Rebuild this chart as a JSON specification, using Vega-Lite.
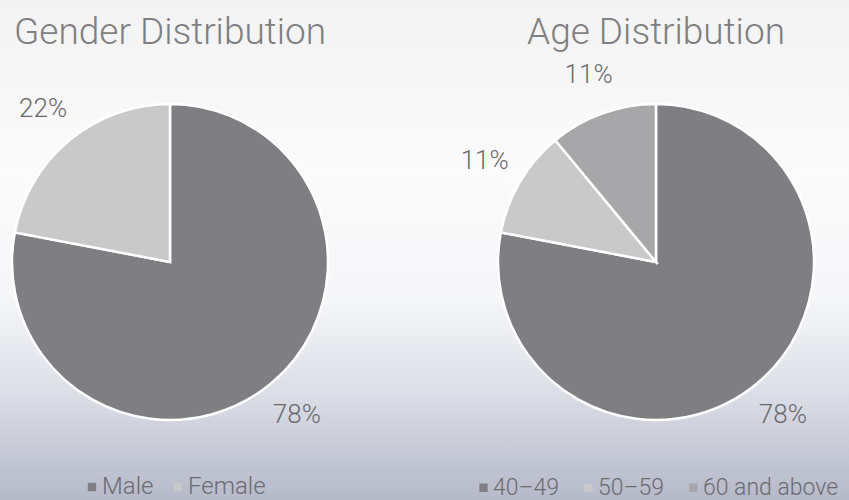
{
  "$schema": "https://vega.github.io/schema/vega-lite/v6.json",
  "width": 849,
  "height": 500,
  "padding": 0,
  "autosize": {"type": "none"},
  "background": "#ffffff",
  "config": {
    "view": {"stroke": null},
    "font": "Roboto"
  },
  "datasets": {
    "gender": [
      {"chart": "Gender Distribution", "group": "Male", "share": 0.78},
      {"chart": "Gender Distribution", "group": "Female", "share": 0.22}
    ],
    "age": [
      {"chart": "Age Distribution", "group": "40–49", "share": 0.78},
      {"chart": "Age Distribution", "group": "50–59", "share": 0.11},
      {"chart": "Age Distribution", "group": "60 and above", "share": 0.11}
    ],
    "charts": [
      {"chart": "Gender Distribution"},
      {"chart": "Age Distribution"}
    ]
  },
  "layer": [
    {
      "data": {"values": [{}]},
      "mark": {
        "type": "rect",
        "color": {
          "gradient": "linear",
          "x1": 0, "y1": 0, "x2": 0, "y2": 1,
          "stops": [
            {"offset": 0, "color": "#f3f3f4"},
            {"offset": 0.35, "color": "#fbfbfc"},
            {"offset": 0.6, "color": "#f5f6f8"},
            {"offset": 0.78, "color": "#dcdfe7"},
            {"offset": 1, "color": "#b5b9c9"}
          ]
        }
      },
      "encoding": {}
    },
    {
      "data": {"name": "charts"},
      "mark": {"type": "text", "fontSize": 37, "fontWeight": 300, "color": "#7f7f80"},
      "encoding": {
        "x": {"field": "chart", "type": "nominal", "axis": null,
              "scale": {"type": "point", "domain": ["Gender Distribution", "Age Distribution"], "padding": 0.37346, "align": 0.46832}},
        "y": {"datum": "title", "type": "nominal", "axis": null,
              "scale": {"type": "point", "domain": ["title", "pie"], "padding": 0.5917, "align": 0.12177}},
        "text": {"field": "chart", "type": "nominal"}
      }
    },
    {
      "data": {"name": "gender"},
      "encoding": {
        "x": {"field": "chart", "type": "nominal", "axis": null,
              "scale": {"type": "point", "domain": ["Gender Distribution", "Age Distribution"], "padding": 0.37346, "align": 0.46832}},
        "y": {"datum": "pie", "type": "nominal", "axis": null,
              "scale": {"type": "point", "domain": ["title", "pie"], "padding": 0.5917, "align": 0.12177}},
        "theta": {"field": "share", "type": "quantitative", "stack": true},
        "order": {"field": "group", "sort": "descending"}
      },
      "layer": [
        {
          "mark": {"type": "arc", "outerRadius": 158, "stroke": "#ffffff", "strokeWidth": 2.5},
          "encoding": {
            "color": {
              "field": "group", "type": "nominal", "sort": "descending",
              "scale": {"domain": ["Male", "Female"], "range": ["#7f7f83", "#c9c9ca"]},
              "legend": {
                "orient": "none", "legendX": 80, "legendY": 475, "direction": "horizontal",
                "title": null, "symbolType": "square", "symbolSize": 70, "symbolStrokeWidth": 0,
                "labelFontSize": 24, "labelFontWeight": 300, "labelColor": "#6b6b70",
                "columnPadding": 12, "labelOffset": -2
              }
            }
          }
        },
        {
          "mark": {"type": "text", "radius": 199, "fontSize": 26, "fontWeight": 300, "color": "#6a6a6c"},
          "encoding": {
            "detail": {"field": "group", "type": "nominal"},
            "text": {"field": "share", "type": "quantitative", "format": ".0%"}
          }
        }
      ]
    },
    {
      "data": {"name": "age"},
      "encoding": {
        "x": {"field": "chart", "type": "nominal", "axis": null,
              "scale": {"type": "point", "domain": ["Gender Distribution", "Age Distribution"], "padding": 0.37346, "align": 0.46832}},
        "y": {"datum": "pie", "type": "nominal", "axis": null,
              "scale": {"type": "point", "domain": ["title", "pie"], "padding": 0.5917, "align": 0.12177}},
        "theta": {"field": "share", "type": "quantitative", "stack": true},
        "order": {"field": "group", "sort": "ascending"}
      },
      "layer": [
        {
          "mark": {"type": "arc", "outerRadius": 158, "stroke": "#ffffff", "strokeWidth": 2.5},
          "encoding": {
            "color": {
              "field": "group", "type": "nominal",
              "scale": {"domain": ["40–49", "50–59", "60 and above"], "range": ["#7f7f83", "#c9c9ca", "#a7a7a9"]},
              "legend": {
                "orient": "none", "legendX": 472, "legendY": 476, "direction": "horizontal",
                "title": null, "symbolType": "square", "symbolSize": 70, "symbolStrokeWidth": 0,
                "labelFontSize": 23, "labelFontWeight": 300, "labelColor": "#6b6b70",
                "columnPadding": 17, "labelOffset": -2
              }
            }
          }
        },
        {
          "mark": {"type": "text", "radius": 199, "fontSize": 26, "fontWeight": 300, "color": "#6a6a6c"},
          "encoding": {
            "detail": {"field": "group", "type": "nominal"},
            "text": {"field": "share", "type": "quantitative", "format": ".0%"}
          }
        }
      ]
    }
  ],
  "resolve": {"scale": {"color": "independent"}, "legend": {"color": "independent"}}
}
